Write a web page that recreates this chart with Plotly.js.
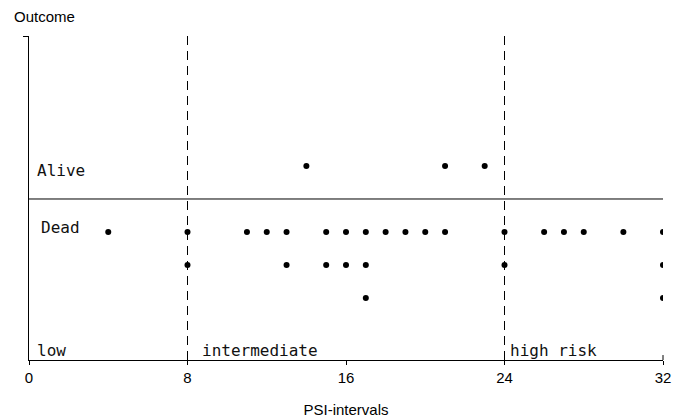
<!DOCTYPE html>
<html>
<head>
<meta charset="utf-8">
<script src="https://cdn.plot.ly/plotly-3.0.1.min.js"></script>
<style>html,body{margin:0;padding:0;background:#fff;}#chart{width:683px;height:420px;}</style>
</head>
<body>
<div id="chart"></div>
<script>
// PSI interval of each patient who survived
const alivePSI = [14, 21, 23];
// PSI interval of each patient who died (repeats = several patients in same interval)
const deadPSI = [4, 8, 8, 11, 12, 13, 13, 15, 15, 16, 16, 17, 17, 17, 18, 19, 20, 21,
                 24, 24, 26, 27, 28, 30, 32, 32, 32];
// risk class boundaries and labels
const riskBounds = [8, 24];
const riskClasses = ["low", "intermediate", "high risk"];
const riskStarts = [0, 8, 24];
const outcomeLabels = ["Alive", "Dead"];
const xTicks = [0, 8, 16, 24, 32];

// stack repeated values into rows
function stack(vals, dir) {
  const seen = {};
  const xs = [], ys = [];
  vals.forEach(v => {
    seen[v] = (seen[v] || 0) + 1;
    xs.push(v);
    ys.push(dir * seen[v]);
  });
  return {xs, ys};
}
const a = stack(alivePSI, 1);
const d = stack(deadPSI, -1);

const yBot = -4.88, yTop = 4.94;
const marker = {color: "#000", size: 6};
const mono = {family: "DejaVu Sans Mono", size: 16, color: "#111"};
const sans = {family: "Liberation Sans, Arial, sans-serif", size: 15, color: "#000"};
const labelShift = [6, 12, 3];

const traces = [
  {x: a.xs, y: a.ys, type: "scatter", mode: "markers", marker, hoverinfo: "x"},
  {x: d.xs, y: d.ys, type: "scatter", mode: "markers", marker, hoverinfo: "x"}
];

const shapes = riskBounds.map(b => ({
  type: "line", xref: "x", yref: "paper", x0: b, x1: b, y0: 0, y1: 1,
  line: {color: "#000", width: 1, dash: "9px,6px"}
}));
shapes.push({type: "line", xref: "paper", yref: "y", x0: 0, x1: 1, y0: 0, y1: 0,
  line: {color: "#000", width: 1}});
shapes.push({type: "line", xref: "paper", yref: "y", x0: 1, x1: 1, y0: yBot, y1: yBot + 0.15,
  line: {color: "#000", width: 1}});

const annotations = [
  {text: outcomeLabels[0], x: 0.3, y: 0.85, xref: "x", yref: "y", xanchor: "left", yanchor: "middle", showarrow: false, font: mono},
  {text: outcomeLabels[1], x: 0.5, y: -0.85, xref: "x", yref: "y", xanchor: "left", yanchor: "middle", showarrow: false, font: mono},
  {text: "Outcome", x: 0, y: 1, xref: "paper", yref: "paper", xanchor: "center", yanchor: "bottom", xshift: 15, yshift: 9, showarrow: false, font: sans}
];
riskClasses.forEach((c, i) => {
  annotations.push({text: c, x: riskStarts[i], y: -4.58, xref: "x", yref: "y", xanchor: "left", yanchor: "middle",
    xshift: labelShift[i], showarrow: false, font: mono});
});

const layout = {
  width: 683, height: 420,
  margin: {l: 29, r: 20, t: 36, b: 60},
  paper_bgcolor: "#fff", plot_bgcolor: "#fff",
  showlegend: false,
  xaxis: {
    range: [0, 32], tickvals: xTicks, ticktext: xTicks.map(String),
    showline: true, linecolor: "#000", linewidth: 1.2,
    ticks: "outside", ticklen: 4, tickcolor: "#000",
    showgrid: false, zeroline: false, tickfont: sans,
    title: {text: "PSI-intervals", font: sans, standoff: 19}
  },
  yaxis: {
    range: [yBot, yTop], tickvals: [yTop], showticklabels: false,
    showline: true, linecolor: "#000", linewidth: 1.2,
    ticks: "outside", ticklen: 5, tickcolor: "#000",
    showgrid: false, zeroline: false
  },
  shapes, annotations
};

Plotly.newPlot("chart", traces, layout, {displayModeBar: false, staticPlot: true});
</script>
</body>
</html>
